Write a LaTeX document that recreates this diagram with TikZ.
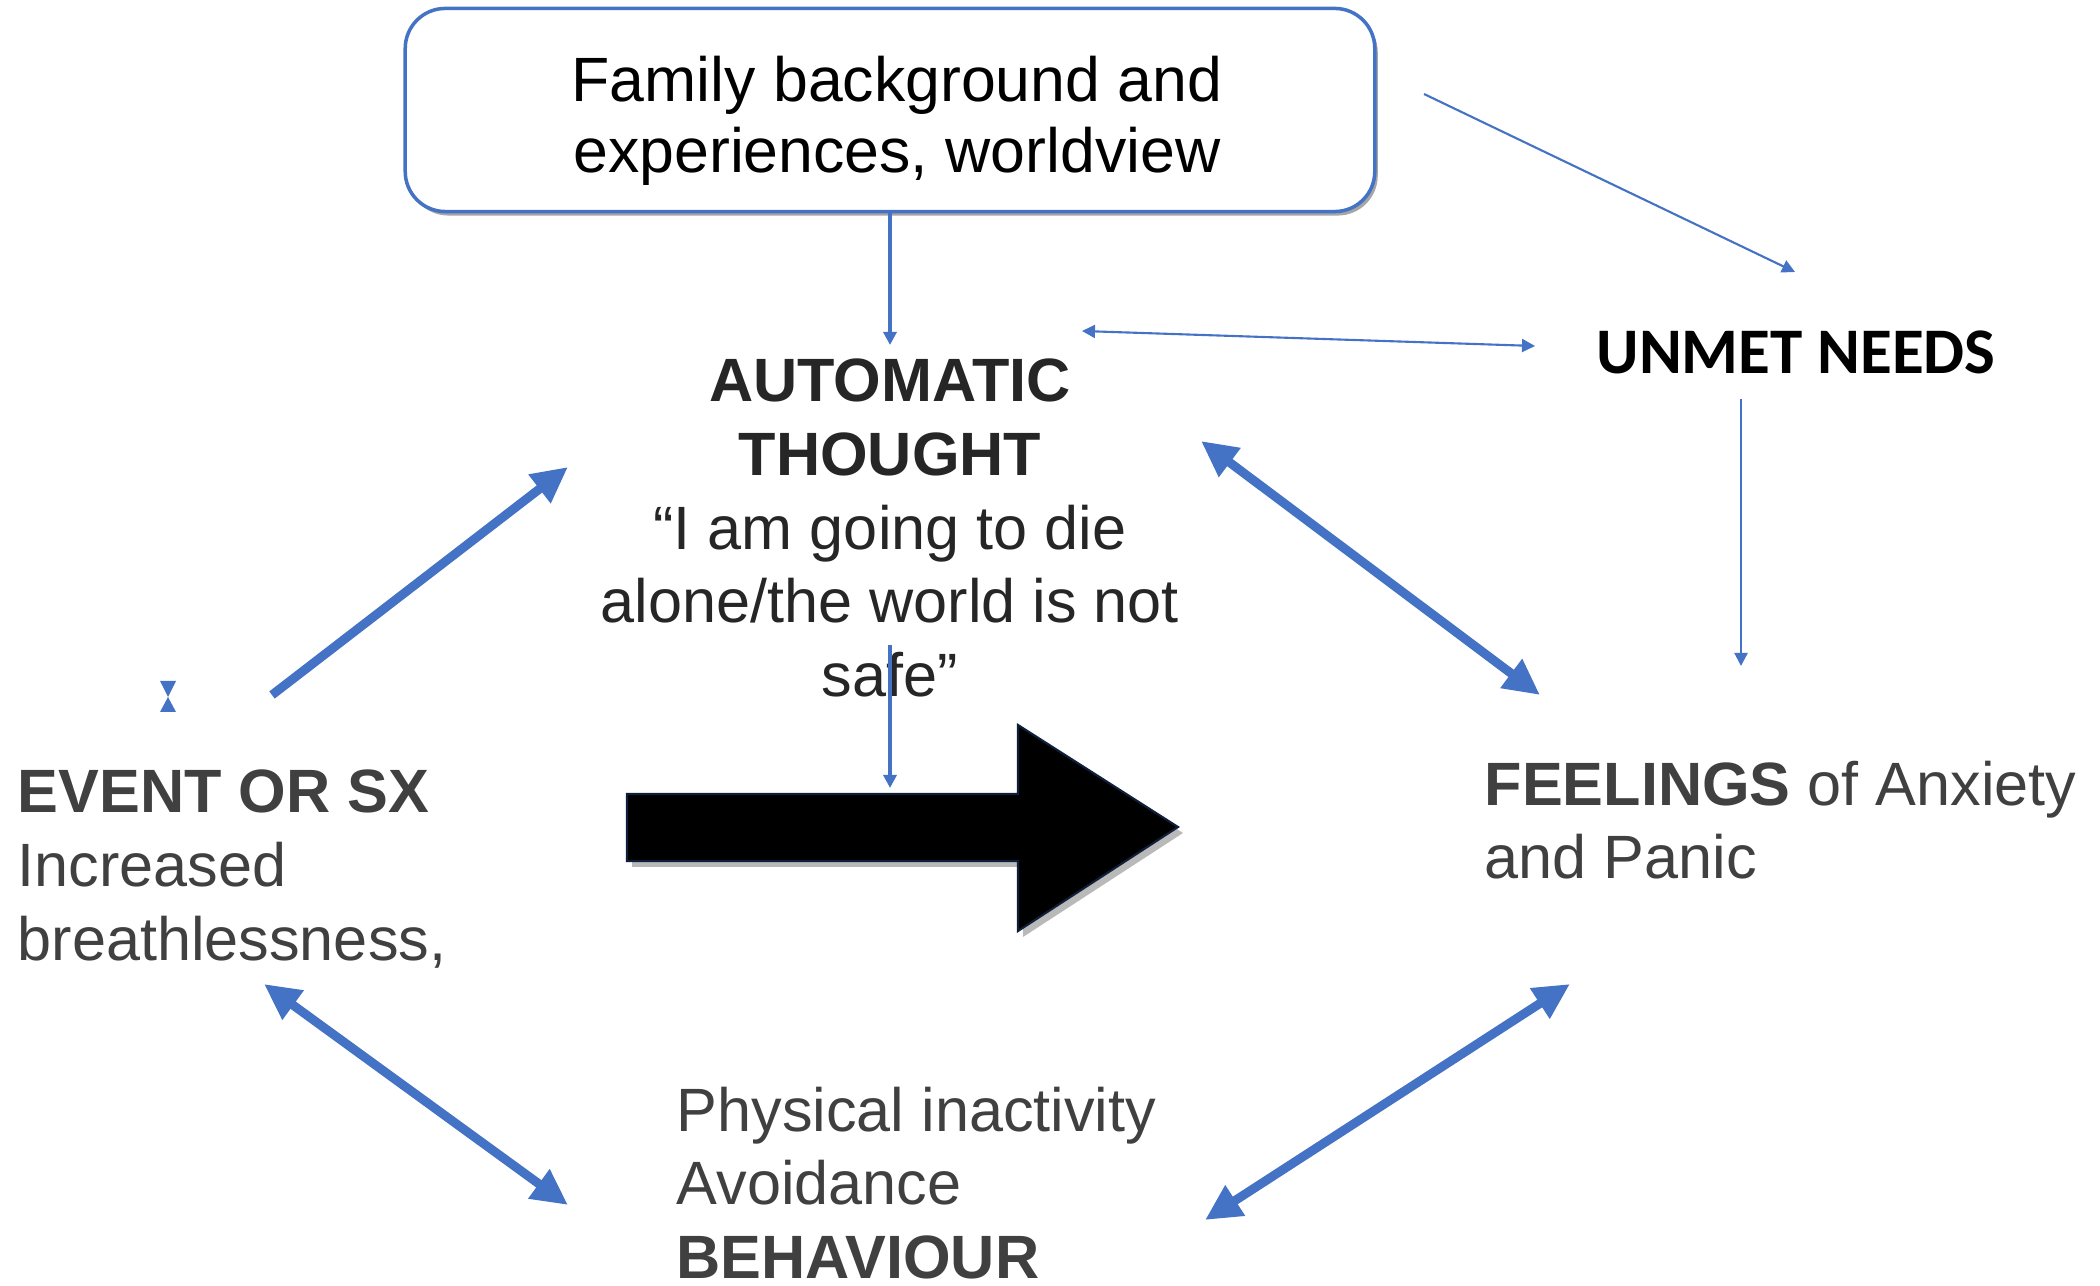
\documentclass[tikz,border=0pt]{standalone}
\usepackage{fontspec}
\setmainfont{Liberation Sans}
\newfontfamily\calibri{Carlito}
\usetikzlibrary{arrows.meta,shadows}
\definecolor{lineblue}{HTML}{4472C4}
\definecolor{txtgray}{HTML}{404040}
\definecolor{txtdark}{HTML}{262626}
\definecolor{navy}{HTML}{0F1F3A}

\begin{document}
\begin{tikzpicture}[x=0.01cm, y=-0.01cm, font=\fontsize{17.4}{21}\selectfont,
	>={Triangle[length=0.13cm,width=0.13cm]},
	thinarrow/.style={draw=lineblue, line width=0.6pt, ->},
	thickarrow/.style={draw=lineblue, line width=0.09cm,
		arrows={Triangle[length=0.36cm,width=0.34cm]-Triangle[length=0.36cm,width=0.34cm]}},
	oneway/.style={draw=lineblue, line width=0.09cm, -{Triangle[length=0.36cm,width=0.34cm]}},
	txt/.style={inner sep=0pt}]
	\useasboundingbox (0,0) rectangle (2100,1286);
	% khung tren
	\node[draw=lineblue, line width=1pt, rounded corners=0.4cm, fill=white,
		minimum width=9.69cm, minimum height=2.03cm,
		drop shadow={shadow xshift=0.03cm, shadow yshift=-0.04cm, fill=gray!70, opacity=1}]
		(family) at (890,110) {};
	\node[txt, align=center, font=\fontsize{17.8}{20.2}\selectfont] (famtext) at (897,121)
		{Family background and\\experiences, worldview};
	% cac nhan
	\node[txt, anchor=north, align=center, text=txtdark] (thought) at (890,358)
		{\textbf{AUTOMATIC}\\\textbf{THOUGHT}\\“I am going to die\\alone/the world is not\\safe”};
	\node[txt, font=\calibri\bfseries\fontsize{18.5}{22}\selectfont] (unmet) at (1796,352) {UNMET NEEDS};
	\node[txt, anchor=north west, align=left, text=txtgray] (event) at (17,769)
		{\textbf{EVENT OR SX}\\Increased\\breathlessness,};
	\node[txt, anchor=north west, align=left, text=txtgray] (feelings) at (1484,760)
		{\textbf{FEELINGS} of Anxiety\\and Panic};
	\node[txt, anchor=north west, align=left, text=txtgray] (behaviour) at (676,1086)
		{Physical inactivity\\Avoidance\\\textbf{BEHAVIOUR}};
	\path
	% dau mui ten
	(890,345) coordinate (th-n)
	(1424,94) coordinate (fam-e)
	(1795,272) coordinate (un-n)
	(1082,331) coordinate (th-r)
	(1535,346) coordinate (un-w)
	(1741,399) coordinate (un-s)
	(1741,666) coordinate (fe-n)
	(890,645) coordinate (th-s)
	(890,788) coordinate (big-t)
	(272,695) coordinate (ev-ne)
	(568,467) coordinate (th-sw)
	(1201,441) coordinate (th-se)
	(1540,695) coordinate (fe-nw)
	(264,984) coordinate (ev-s)
	(568,1205) coordinate (be-nw)
	(1205,1220) coordinate (be-ne)
	(1570,984) coordinate (fe-sw)
	;
	% mui ten mong
	\draw[thinarrow, line width=0.9pt] (family.south) -- (th-n);
	\draw[thinarrow] (fam-e) -- (un-n);
	\draw[thinarrow, <->] (th-r) -- (un-w);
	\draw[thinarrow] (un-s) -- (fe-n);
	% mui ten to
	\fill[gray!55] (632,800)--(1023,800)--(1023,731)--(1183,833)--(1023,937)--(1023,867)--(632,867)--cycle;
	\filldraw[fill=black, draw=navy, line width=0.6pt]
	(627,794)--(1018,794)--(1018,725)--(1178,827)--(1018,931)--(1018,861)--(627,861)--cycle;
	\draw[thinarrow, line width=0.9pt] (th-s) -- (big-t);
	% mui ten day
	\draw[oneway] (ev-ne) -- (th-sw);
	\draw[thickarrow] (th-se) -- (fe-nw);
	\draw[thickarrow] (ev-s) -- (be-nw);
	\draw[thickarrow] (be-ne) -- (fe-sw);
	% dau nho
	\fill[lineblue] (160,681)--(176,681)--(168,697)--cycle (160,712)--(176,712)--(168,697)--cycle;
\end{tikzpicture}
\end{document}
